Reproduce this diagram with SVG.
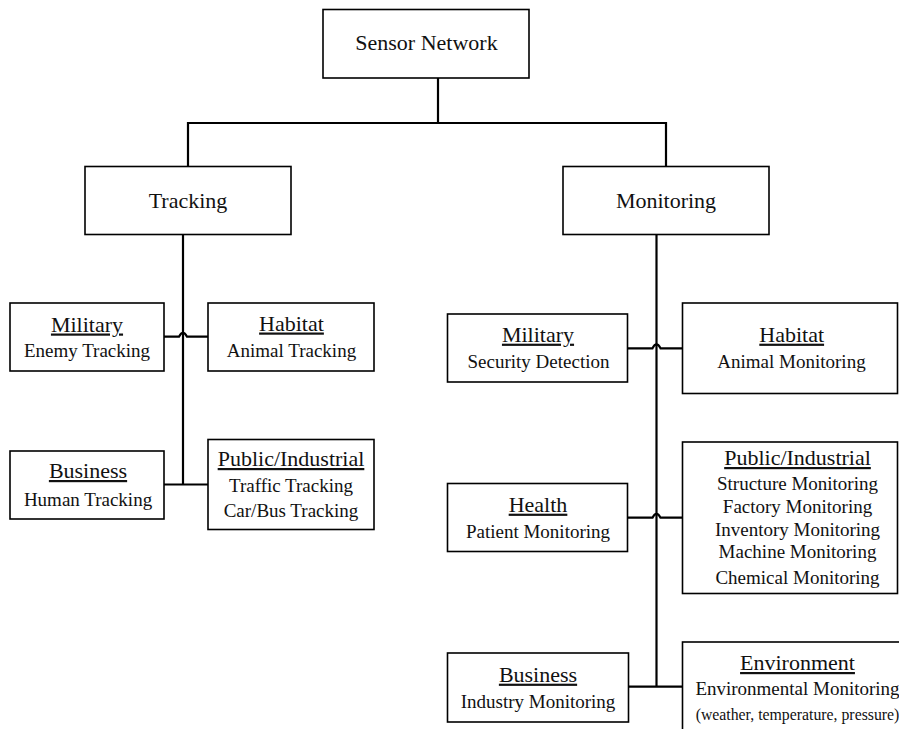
<svg xmlns="http://www.w3.org/2000/svg" width="899" height="729" viewBox="0 0 899 729">
  <style>
    .box { fill: #ffffff; stroke: #000000; stroke-width: 1.6; }
    .wire { fill: none; stroke: #000000; stroke-width: 2.2; }
    text { font-family: "Liberation Serif", "Times New Roman", serif; fill: #111111; text-anchor: middle; }
    .head { font-size: 22px; }
    .title { font-size: 22px; text-decoration: underline; }
    .body { font-size: 19px; }
    .small { font-size: 15.8px; }
  </style>

  <rect width="899" height="729" fill="#ffffff"/>

  <!-- connectors -->
  <g id="connectors" class="wire">
    <!-- root to the two branches -->
    <path d="M438 78 V123"/>
    <path d="M188 166 V123 H666 V166"/>
    <!-- tracking branch -->
    <path d="M183 234 V484.5"/>
    <path d="M164 336.7 H179 Q183 329 187 336.7 H208"/>
    <path d="M164 484.5 H208"/>
    <!-- monitoring branch -->
    <path d="M656.5 234 V686.7"/>
    <path d="M628 348.3 H652.5 Q656.5 340.6 660.5 348.3 H682.5"/>
    <path d="M628 517.7 H652.5 Q656.5 510 660.5 517.7 H682.5"/>
    <path d="M628 686.7 H682.5"/>
  </g>

  <!-- root -->
  <g id="sensor-network">
    <rect class="box" x="323" y="9.5" width="206" height="68.5"/>
    <text class="head" x="426.5" y="50">Sensor Network</text>
  </g>

  <!-- second level -->
  <g id="tracking">
    <rect class="box" x="85" y="166.5" width="206" height="68"/>
    <text class="head" x="188" y="208">Tracking</text>
  </g>
  <g id="monitoring">
    <rect class="box" x="563" y="166.5" width="206" height="68"/>
    <text class="head" x="666" y="208">Monitoring</text>
  </g>

  <!-- tracking leaves -->
  <g id="track-military">
    <rect class="box" x="10" y="303" width="154" height="68"/>
    <text class="title" x="87" y="331.5">Military</text>
    <text class="body" x="87" y="357">Enemy Tracking</text>
  </g>
  <g id="track-habitat">
    <rect class="box" x="208" y="303" width="166" height="68"/>
    <text class="title" x="291.5" y="330.5">Habitat</text>
    <text class="body" x="291.5" y="357">Animal Tracking</text>
  </g>
  <g id="track-business">
    <rect class="box" x="10" y="451" width="154" height="68"/>
    <text class="title" x="88" y="478">Business</text>
    <text class="body" x="88" y="505.7">Human Tracking</text>
  </g>
  <g id="track-public">
    <rect class="box" x="208" y="439.5" width="166" height="90"/>
    <text class="title" x="291" y="466">Public/Industrial</text>
    <text class="body" x="291" y="491.7">Traffic Tracking</text>
    <text class="body" x="291" y="516.7">Car/Bus Tracking</text>
  </g>

  <!-- monitoring leaves -->
  <g id="mon-military">
    <rect class="box" x="447.5" y="314" width="180" height="68"/>
    <text class="title" x="538" y="341.7">Military</text>
    <text class="body" x="538.5" y="368.3">Security Detection</text>
  </g>
  <g id="mon-habitat">
    <rect class="box" x="682.5" y="303" width="215" height="90.5"/>
    <text class="title" x="791.7" y="341.7">Habitat</text>
    <text class="body" x="791.5" y="368">Animal Monitoring</text>
  </g>
  <g id="mon-health">
    <rect class="box" x="447.5" y="483.5" width="180" height="68"/>
    <text class="title" x="538" y="511.7">Health</text>
    <text class="body" x="538" y="538.3">Patient Monitoring</text>
  </g>
  <g id="mon-public">
    <rect class="box" x="682.5" y="442" width="215" height="151.5"/>
    <text class="title" x="797.5" y="465">Public/Industrial</text>
    <text class="body" x="797.5" y="490">Structure Monitoring</text>
    <text class="body" x="797.5" y="513.3">Factory Monitoring</text>
    <text class="body" x="797.5" y="536">Inventory Monitoring</text>
    <text class="body" x="797.5" y="558.3">Machine Monitoring</text>
    <text class="body" x="797.5" y="584">Chemical Monitoring</text>
  </g>
  <g id="mon-business">
    <rect class="box" x="447.5" y="653" width="181" height="69"/>
    <text class="title" x="538" y="681.7">Business</text>
    <text class="body" x="538" y="708.3">Industry Monitoring</text>
  </g>
  <g id="mon-environment">
    <rect class="box" x="682.5" y="642" width="230" height="100"/>
    <text class="title" x="797.5" y="670">Environment</text>
    <text class="body" x="797.5" y="695">Environmental Monitoring</text>
    <text class="small" x="797.5" y="720">(weather, temperature, pressure)</text>
  </g>
</svg>
